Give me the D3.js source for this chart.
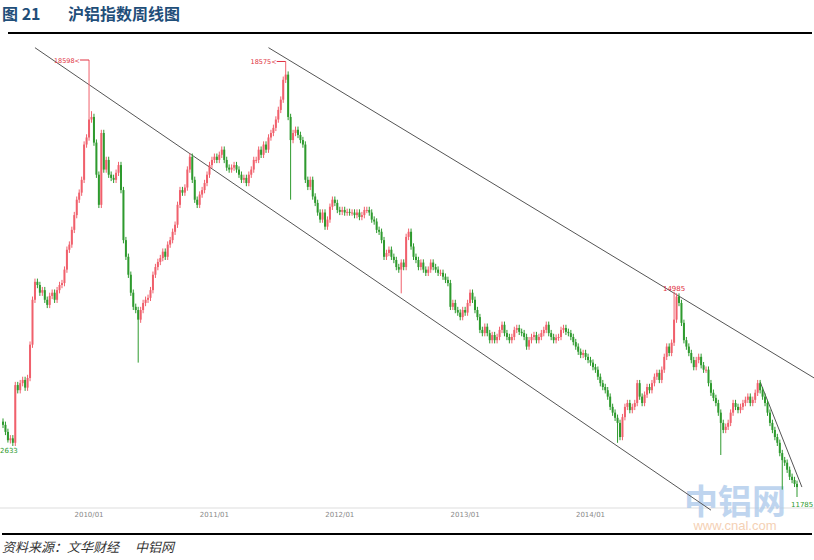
<!DOCTYPE html>
<html><head><meta charset="utf-8">
<script src="https://cdn.jsdelivr.net/npm/d3@7"></script>
<style>body{margin:0;background:#fff}svg{display:block}</style>
</head><body>
<script>
// Weekly closes of the SHFE aluminium index
const firstOpen = 12960;
const closes = [
12910,12800,12670,12700,12630,13530,13450,13560,13610,13490,13640,14160,14860,15140,15090,14970,15010,14860,14780,14920,14970,14860,15010,15090,15120,15330,15640,15720,15950,16180,16420,16530,16730,17280,17390,17670,17710,17310,16810,16340,17460,16890,17040,16810,16760,16730,16840,16960,16570,15790,15530,15250,14970,14750,14700,14550,14700,14810,14860,14890,15010,15250,15370,15450,15510,15610,15530,15720,15790,15920,16030,16340,16570,16530,16610,16890,17090,16730,16420,16340,16500,16570,16680,16810,16960,17040,17090,17040,17120,17200,17040,16920,16890,16920,16960,16890,16810,16730,16760,16680,16810,16890,17040,17040,17200,17120,17280,17200,17390,17460,17540,17670,17820,17980,18290,18370,17710,17350,17460,17510,17430,17350,17280,16730,16620,16730,16470,16370,16220,16110,16220,16000,16110,16310,16420,16370,16260,16230,16260,16220,16230,16220,16220,16180,16220,16150,16180,16260,16260,16220,16110,16080,15950,15920,15790,15530,15590,15640,15530,15480,15370,15330,15440,15370,15840,15920,15690,15530,15480,15370,15440,15330,15280,15330,15440,15370,15330,15280,15280,15220,15170,15120,14750,14810,14700,14660,14590,14700,14660,14810,14970,14860,14700,14590,14390,14340,14440,14340,14230,14310,14230,14280,14390,14470,14340,14280,14230,14280,14390,14420,14360,14340,14280,14130,
14230,14280,14310,14230,14280,14340,14390,14470,14340,14280,14230,14270,14280,14390,14420,14360,14340,14280,14200,14130,14050,14000,14030,13970,13920,13880,13810,13770,13660,13560,13500,13450,13350,13190,13100,13020,12940,12720,13030,13190,13250,13140,13190,13250,13560,13350,13250,13380,13500,13450,13560,13660,13720,13610,13770,13970,14130,14030,14190,14550,14910,14810,14500,14230,14130,14030,13920,13810,13920,13970,13840,13770,13770,13560,13410,13330,13250,13100,12940,12830,12880,12940,13100,13250,13190,13140,13190,13250,13300,13350,13250,13300,13410,13560,13450,13350,13250,13100,12940,12830,12720,12630,12470,12360,12320,12210,12100,12050,11990,11940
];
// notable wick extremes: [index, high, low]
const spikes = [[2,null,12633],[35,18598,null],[36,17800,null],[55,null,13880],[115,18575,null],[117,null,16420],[162,null,14960],[250,null,12630],[273,14985,null],[292,null,12440],[317,null,11900],[323,null,11785]];
const ticks = [[35,"2010/01"],[86,"2011/01"],[137,"2012/01"],[188,"2013/01"],[239,"2014/01"]];
// trend lines: [idx1, price1, idx2, price2]
const trendLines = [[13,18790,288,11580],[108,18790,330,13640],[308,13580,325,11940]];
const labels = [{i:35,v:18598,t:"18598<--",kind:"hi"},{i:115,v:18575,t:"18575<--",kind:"hi"},{i:273,v:14985,t:"14985",kind:"top"},{i:2,v:12633,t:"2633",kind:"lo"},{i:323,v:11785,t:"11785",kind:"lo"}];

const W=814,H=560;
const svg=d3.select("body").append("svg").attr("width",W).attr("height",H).style("font-family","'Noto Sans CJK SC',sans-serif");
const n=closes.length;
const x=d3.scaleLinear().domain([0,n-1]).range([3,797]);
const y=d3.scaleLinear().domain([11785,18598]).range([497,60]);
const up="#f0606c", dn="#2e9a2e";

const data=closes.map((c,i)=>{const o=i?closes[i-1]:firstOpen;return {i,o,c,h:Math.max(o,c)+50,l:Math.min(o,c)-50};});
spikes.forEach(([i,h,l])=>{if(i<n){if(h!=null)data[i].h=h;if(l!=null)data[i].l=l;}});

svg.append("text").attr("x",2).attr("y",20).attr("fill","#1f4e79").attr("font-size",16).attr("font-weight","bold").text("图 21");
svg.append("text").attr("x",68).attr("y",20).attr("fill","#1f4e79").attr("font-size",16).attr("font-weight","bold").text("沪铝指数周线图");
svg.append("line").attr("x1",8).attr("x2",812).attr("y1",33).attr("y2",33).attr("stroke","#000").attr("stroke-width",2);
svg.append("line").attr("x1",2).attr("x2",812).attr("y1",534).attr("y2",534).attr("stroke","#000").attr("stroke-width",2);
svg.append("text").attr("x",2).attr("y",552).attr("fill","#333").attr("font-size",13).attr("font-style","italic").text("资料来源：文华财经　 中铝网");

// axis
svg.append("line").attr("x1",0).attr("x2",814).attr("y1",508).attr("y2",508).attr("stroke","#ddd");
svg.selectAll(".tk").data(ticks).join("text").attr("x",d=>x(d[0])).attr("y",517).attr("text-anchor","middle").attr("font-size",7).attr("fill","#888").attr("font-family","DejaVu Sans").text(d=>d[1]);

// watermark
svg.append("text").attr("x",735).attr("y",514).attr("text-anchor","middle").attr("font-size",34).attr("font-weight","bold").attr("fill","#aac8ea").attr("opacity",0.75).text("中铝网");
svg.append("text").attr("x",735).attr("y",530).attr("text-anchor","middle").attr("font-size",13).attr("fill","#f3c9a8").attr("font-family","Liberation Sans").attr("opacity",0.85).text("www.cnal.com");

// trend lines
svg.selectAll(".tl").data(trendLines).join("line").attr("x1",d=>x(d[0])).attr("y1",d=>y(d[1])).attr("x2",d=>x(d[2])).attr("y2",d=>y(d[3])).attr("stroke","#555").attr("stroke-width",1);

// candles
const g=svg.append("g");
g.selectAll(".w").data(data).join("line").attr("x1",d=>x(d.i)).attr("x2",d=>x(d.i)).attr("y1",d=>y(d.h)).attr("y2",d=>y(d.l)).attr("stroke",d=>d.c>=d.o?up:dn).attr("stroke-width",1);
g.selectAll(".b").data(data).join("rect").attr("x",d=>x(d.i)-1).attr("width",2).attr("y",d=>y(Math.max(d.o,d.c))).attr("height",d=>Math.max(1,Math.abs(y(d.o)-y(d.c)))).attr("fill",d=>d.c>=d.o?up:dn);

// labels
labels.forEach(L=>{
  const px=x(L.i),py=y(L.v);
  if(L.kind==="hi"){
    svg.append("text").attr("x",px-9).attr("y",py+2.5).attr("text-anchor","end").attr("font-size",6.5).attr("fill","#e03040").attr("font-family","DejaVu Sans").text(L.t.replace("<--","<"));
    svg.append("line").attr("x1",px-9).attr("x2",px).attr("y1",py).attr("y2",py).attr("stroke","#e03040");
  } else if(L.kind==="top"){
    svg.append("text").attr("x",px).attr("y",py-1).attr("text-anchor","middle").attr("font-size",7).attr("fill","#e03040").attr("font-family","DejaVu Sans").text(L.t);
  } else {
    svg.append("text").attr("x",L.i<10?0:px-6).attr("y",py+10).attr("font-size",7).attr("fill","#2e9a2e").attr("font-family","DejaVu Sans").text(L.t);
  }
});
</script>
</body></html>
